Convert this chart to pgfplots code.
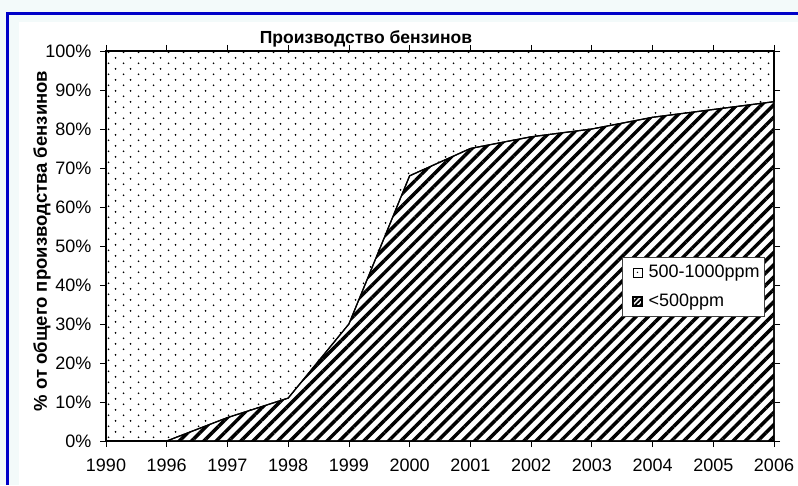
\documentclass[border=0pt]{standalone}
\usepackage{pgfplots}
\pgfplotsset{compat=1.18}
\usepackage{fontspec}
\setmainfont{Liberation Sans}
\usetikzlibrary{patterns.meta}
\definecolor{bgc}{RGB}{243,250,250}
\definecolor{framec}{RGB}{0,0,200}
\tikzdeclarepattern{
  name=mydots,
  type=uncolored,
  bounding box={(0pt,0pt) and (15pt,11.4pt)},
  tile size={(15pt,11.4pt)},
  code={
    \fill (3.75pt,2.85pt) circle (1pt);
    \fill (11.25pt,8.55pt) circle (1pt);
  }
}
\begin{document}
\begin{tikzpicture}
\useasboundingbox (0pt,0pt) rectangle (798pt,485pt);
\fill[bgc] (0pt,0pt) rectangle (798pt,485pt);
\fill[white] (19pt,0pt) rectangle (798pt,463pt);
\fill[framec] (6pt,470pt) rectangle (798pt,473pt);
\fill[framec] (6pt,0pt) rectangle (9pt,473pt);
\begin{axis}[
  at={(106pt,44pt)}, anchor=south west,
  width=668pt, height=390pt, scale only axis,
  xmin=0, xmax=11, ymin=0, ymax=100,
  xtick={0,1,2,3,4,5,6,7,8,9,10,11},
  xticklabels={1990,1996,1997,1998,1999,2000,2001,2002,2003,2004,2005,2006},
  ytick={0,10,20,30,40,50,60,70,80,90,100},
  yticklabels={0\%,10\%,20\%,30\%,40\%,50\%,60\%,70\%,80\%,90\%,100\%},
  /pgf/number format/assume math mode=true,
  tick align=outside, major tick length=6pt,
  tick style={black, line width=0.8pt},
  axis line style={black, line width=1.2pt},
  ticklabel style={font=\fontsize{18}{21}\selectfont},
  xticklabel style={yshift=-8pt},
  yticklabel style={xshift=-5pt},
  legend style={at={(0.9865,0.4718)}, anchor=north east,
    draw=black!75, line width=0.6pt, fill=white,
    font=\fontsize{18}{21}\selectfont,
    row sep=11pt, column sep=2pt, inner xsep=3pt, inner ysep=6pt},
  legend cell align=left,
]
\addplot[draw=none, pattern=mydots,
  legend image code/.code={
    \node[inner sep=0pt, minimum width=19pt, minimum height=1pt, draw=none, fill=none, anchor=west] at (0pt,0pt) {};
    \draw[black, line width=0.6pt, fill=white] (8pt,-4.5pt) rectangle (17pt,4.5pt);
    \fill[black] (12.5pt,0pt) circle (0.8pt);}]
  coordinates {(0,100) (11,100)} \closedcycle;
\addlegendentry{500-1000ppm}
\addplot[black, line width=1.2pt, preaction={fill=white},
  pattern={Lines[angle=45,distance=8.7pt,line width=3.5pt]},
  legend image code/.code={
    \node[inner sep=0pt, minimum width=19pt, minimum height=1pt, draw=none, fill=none, anchor=west] at (0pt,0pt) {};
    \draw[black, line width=0.6pt, fill=white, pattern={Lines[angle=45,distance=3.5pt,line width=1.8pt]}] (8pt,-4.5pt) rectangle (17pt,4.5pt);}]
  coordinates {(0,0) (1,0) (2,6) (3,11) (4,30) (5,68) (6,75) (7,78) (8,80) (9,83) (10,85) (11,87)} \closedcycle;
\addlegendentry{<500ppm}
\end{axis}
\node[font=\bfseries\fontsize{17.5}{20}\selectfont, anchor=base] at (366pt,441.5pt) {Производство бензинов};
\node[font=\bfseries\fontsize{18.5}{21}\selectfont, rotate=90] at (42pt,244pt) {\% от общего производства бензинов};
\end{tikzpicture}
\end{document}
